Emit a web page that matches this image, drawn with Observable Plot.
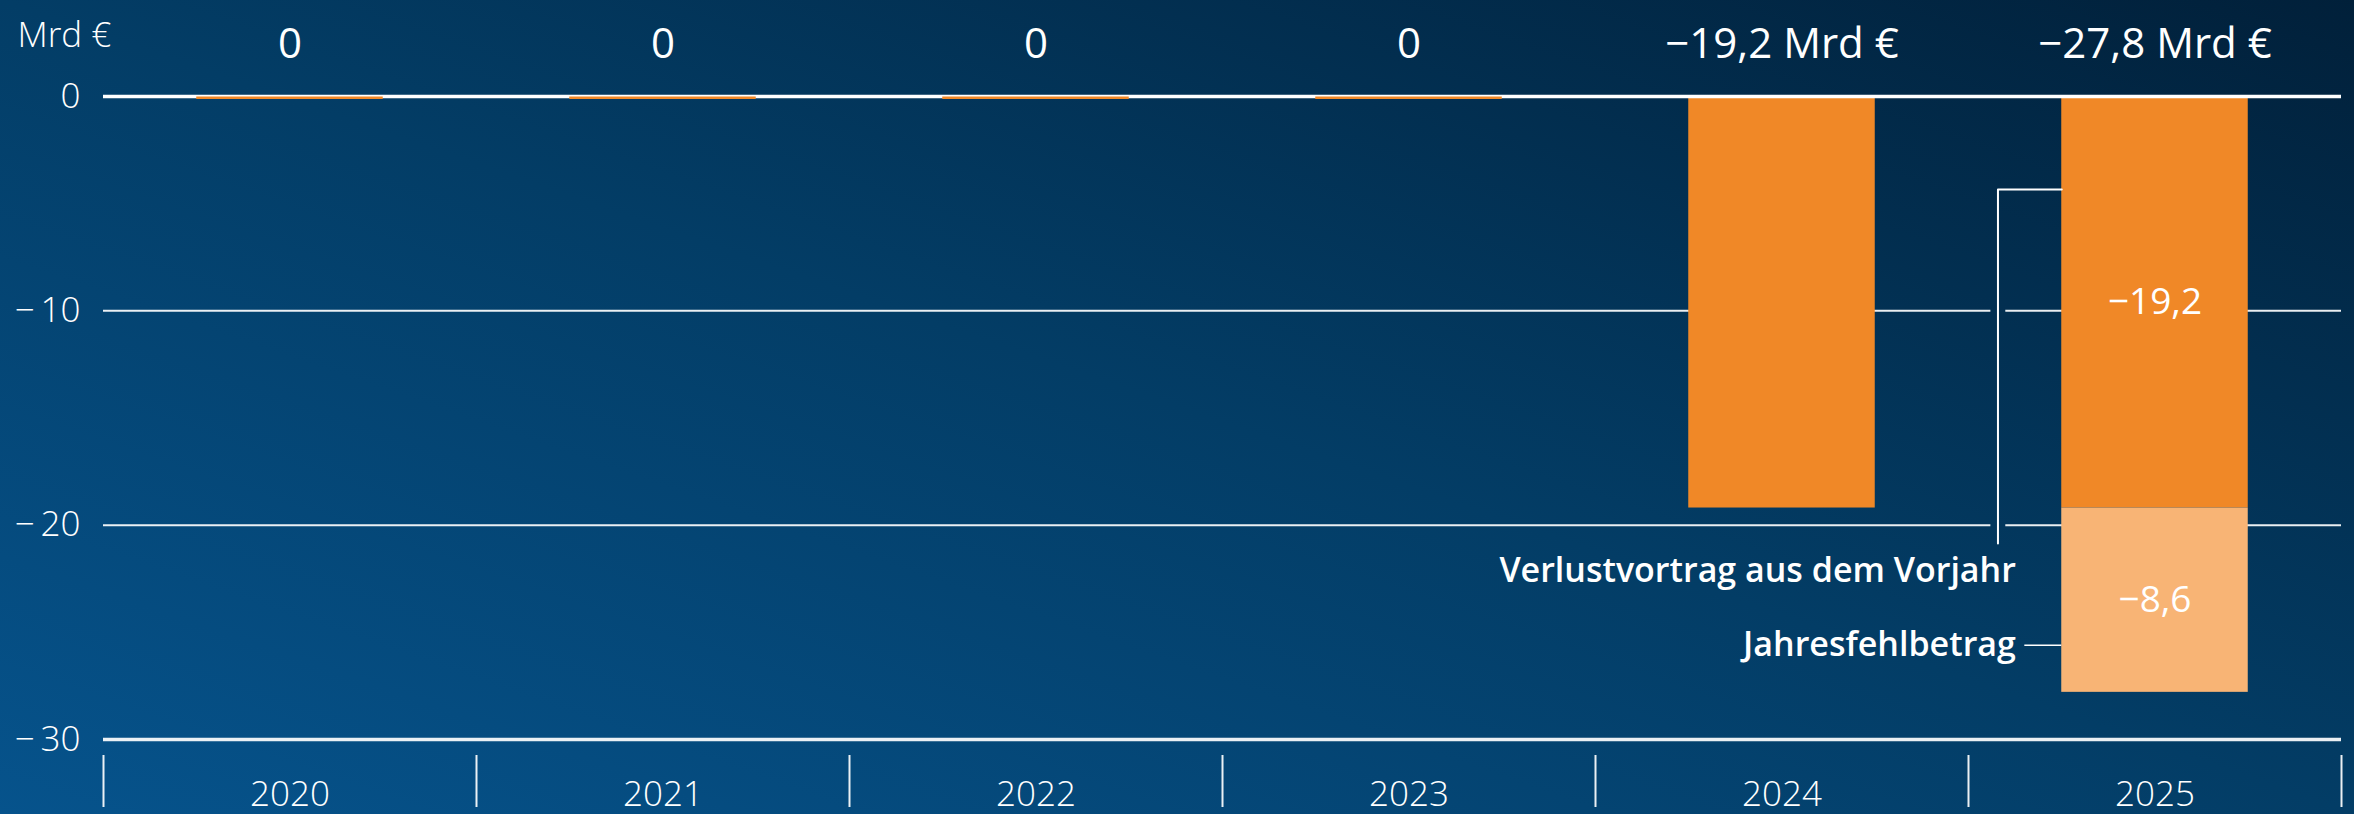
<!DOCTYPE html>
<html><head><meta charset="utf-8">
<script src="https://cdn.jsdelivr.net/npm/d3@7"></script>
<script src="https://cdn.jsdelivr.net/npm/@observablehq/plot@0.6"></script>
<style>
html,body{margin:0;padding:0;background:#033d66;}
#chart{width:2354px;height:814px;background:linear-gradient(to top right,#06538c 0%,#033d66 50%,#01203a 100%);}
svg{display:block;}
</style></head><body><div id="chart"></div>
<script>
// ---- data ----
const years = [2020, 2021, 2022, 2023, 2024, 2025];
const verlustvortrag = [0, 0, 0, 0, -19.2, -19.2];   // dark orange segment
const jahresfehlbetrag = [0, 0, 0, 0, 0, -8.6];      // light orange segment
const yTicks = [0, -10, -20, -30];
const unitLabel = "Mrd €";
const seriesNames = ["Verlustvortrag aus dem Vorjahr", "Jahresfehlbetrag"];

// ---- derived tables ----
const rows = [];
years.forEach((yr, i) => {
  const a = verlustvortrag[i], b = jahresfehlbetrag[i];
  rows.push({year: yr, series: seriesNames[0], value: a, y1: 0, y2: a});
  rows.push({year: yr, series: seriesNames[1], value: b, y1: a, y2: a + b});
});
const totals = years.map((yr, i) => ({year: yr, total: +(verlustvortrag[i] + jahresfehlbetrag[i]).toFixed(1)}));
const dividers = d3.range(years.length + 1).map(i => years[0] - 0.5 + i);

const fmt = v => v === 0 ? "0" : "\u2212" + Math.abs(v).toFixed(1).replace(".", ",");
const tickFmt = v => v === 0 ? "0" : "\u2212\u2009" + Math.abs(v);

const ORANGE = "#f08827", LIGHT = "#f8b475", WHITE = "#ffffff";
const font = "'Open Sans', 'Noto Sans', sans-serif";
const half = 0.25;
const last = years[years.length - 1];

// annotation layout (in data units relative to the last year)
const bracketX = last - 0.421, barEdge = last - half, textX = last - 0.373, connX = last - 0.349;
const gapL = last - 0.440, gapR = last - 0.400;
const gridSegs = [];
[-10, -20].forEach(y => {
  gridSegs.push({y, x1: years[0] - 0.5, x2: gapL});
  gridSegs.push({y, x1: gapR, x2: last + 0.5});
});
const bracket = [{x: bracketX, y: -20.85}, {x: bracketX, y: -4.34}, {x: barEdge, y: -4.34}];
const annotations = [
  {text: seriesNames[0], y: -22.15},
  {text: seriesNames[1], y: -25.6}
];

const plot = Plot.plot({
  width: 2354, height: 814,
  marginLeft: 103, marginRight: 13, marginTop: 96, marginBottom: 75,
  style: {background: "transparent", fontFamily: font, color: WHITE, overflow: "visible"},
  x: {type: "linear", domain: [years[0] - 0.5, last + 0.5], axis: null},
  y: {domain: [-30, 0], axis: null},
  marks: [
    Plot.ruleY(gridSegs, {y: "y", x1: "x1", x2: "x2", stroke: WHITE, strokeWidth: 2, strokeOpacity: 0.92}),
    Plot.ruleY([-30], {stroke: WHITE, strokeWidth: 3.5, strokeOpacity: 0.92}),
    Plot.rectY(rows.filter(d => d.value !== 0), {
      x1: d => d.year - half, x2: d => d.year + half, y1: "y1", y2: "y2",
      fill: d => d.series === seriesNames[0] ? ORANGE : LIGHT
    }),
    Plot.ruleY([0], {stroke: WHITE, strokeWidth: 3.5}),
    Plot.ruleY(totals.filter(d => d.total === 0), {
      y: "total", x1: d => d.year - half, x2: d => d.year + half, stroke: ORANGE, strokeWidth: 2.5, dy: 1.2
    }),
    Plot.line(bracket, {x: "x", y: "y", stroke: WHITE, strokeWidth: 2}),
    Plot.ruleY([annotations[1]], {y: "y", x1: connX, x2: barEdge, stroke: WHITE, strokeWidth: 1.5}),
    Plot.text(annotations, {x: textX, y: "y", text: "text", textAnchor: "end", fill: WHITE, fontSize: 34, fontWeight: 600}),
    Plot.text(rows.filter(d => d.year === last && d.value !== 0), {
      x: "year", y: d => (d.y1 + d.y2) / 2, text: d => fmt(d.value), fill: WHITE, fontSize: 37, fontWeight: 500
    }),
    Plot.text(totals, {
      x: "year", y: 0, dy: -52, text: d => d.total === 0 ? "0" : fmt(d.total) + " Mrd €",
      fill: WHITE, fontSize: 42, fontWeight: 500
    }),
    Plot.text([unitLabel], {frameAnchor: "top-left", dx: -86, dy: -74, textAnchor: "start", fill: WHITE, fontSize: 35, fontWeight: 300}),
    Plot.axisY(yTicks, {tickSize: 0, tickPadding: 23, tickFormat: tickFmt, fontSize: 35, fontWeight: 300, fill: WHITE}),
    Plot.axisX(dividers, {tickSize: 52, dy: 16, tickFormat: () => "", stroke: WHITE, strokeWidth: 2, strokeOpacity: 0.92}),
    Plot.axisX(years, {tickSize: 0, tickPadding: 42, tickFormat: d => String(d), fontSize: 35, fontWeight: 300, fill: WHITE})
  ]
});
document.getElementById("chart").appendChild(plot);
</script>
</body></html>
